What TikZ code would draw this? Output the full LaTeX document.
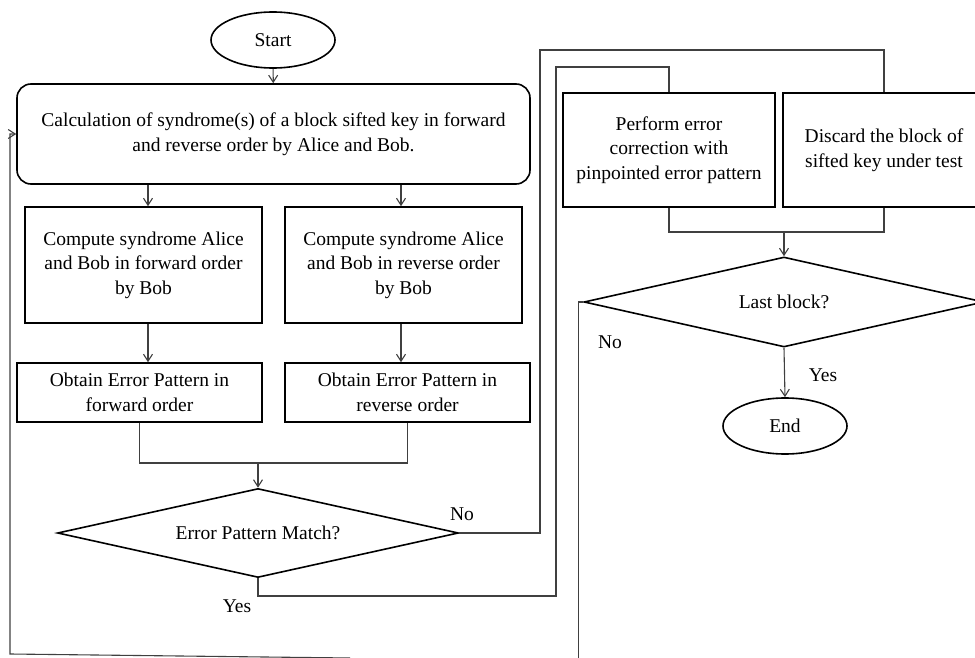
\documentclass[tikz,border=0pt]{standalone}
\usepackage{fontspec}
\setmainfont{Liberation Serif}
\usetikzlibrary{shapes.geometric,arrows.meta}
\tikzset{
  box/.style={draw=black,line width=1.6pt,rectangle,align=center,inner sep=0pt},
  term/.style={draw=black,line width=1.6pt,ellipse,inner sep=0pt,minimum width=124pt,minimum height=56pt},
  dec/.style={draw=black,line width=1.6pt,diamond,aspect=4.5,inner sep=0pt,align=center},
  conn/.style={draw=black!75,line width=1.1pt},
  arr/.style={conn,-{Straight Barb[length=7pt,width=9pt]}},
  lbl/.style={inner sep=0pt}
}
\begin{document}
\begin{tikzpicture}[x=1pt,y=-1pt,font=\fontsize{19.5}{24.5}\selectfont]
\useasboundingbox (0,0) rectangle (975,658);
\clip (0,0) rectangle (975,658);
\node[term] (start) at (273,40) {Start};
\node[box,rounded corners=14pt,minimum width=513pt,minimum height=100pt] (main) at (273.5,134)
  {Calculation of syndrome(s) of a block sifted key in forward\\and reverse order by Alice and Bob.};
\node[box,minimum width=237pt,minimum height=116pt] (cl) at (143.5,265)
  {Compute syndrome Alice\\and Bob in forward order\\by Bob};
\node[box,minimum width=237pt,minimum height=116pt] (cr) at (403.5,265)
  {Compute syndrome Alice\\and Bob in reverse order\\by Bob};
\node[box,minimum width=245pt,minimum height=59pt] (ol) at (139.5,392.5)
  {Obtain Error Pattern in\\forward order};
\node[box,minimum width=245pt,minimum height=59pt] (or) at (407.5,392.5)
  {Obtain Error Pattern in\\reverse order};
\node[dec,minimum width=401pt,minimum height=89pt] (d1) at (258,533) {Error Pattern Match?};
\node[box,minimum width=212pt,minimum height=114pt] (perf) at (669,150)
  {Perform error\\correction with\\pinpointed error pattern};
\node[box,minimum width=202pt,minimum height=114pt] (disc) at (884,150)
  {Discard the block of\\sifted key under test};
\node[dec,minimum width=400pt,minimum height=90pt] (ld) at (784,302) {Last block?};
\node[term] (end) at (785,426) {End};
\coordinate (m1) at (258,463);
\coordinate (m2) at (784,232);
\coordinate (fb) at (350,658);
\node[lbl] (no1) at (462,514) {No};
\node[lbl] (yes1) at (237,606) {Yes};
\node[lbl] (no2) at (610,342) {No};
\node[lbl] (yes2) at (823,375) {Yes};
% connectors
\draw[arr] (start) -- (main);
\draw[arr] (main.south -| 148,0) -- (cl.north -| 148,0);
\draw[arr] (main.south -| 401,0) -- (cr.north -| 401,0);
\draw[arr] (cl.south -| 148,0) -- (ol.north -| 148,0);
\draw[arr] (cr.south -| 401,0) -- (or.north -| 401,0);
\draw[conn] (ol.south) |- (m1) -| (or.south);
\draw[arr] (m1) -- (d1.north);
\draw[conn] (d1.east) -- (540,533) -- (540,50) -| (disc.north);
\draw[conn] (d1.south) -- (258,596) -- (556,596) -- (556,67) -| (perf.north);
\draw[conn] (perf.south) |- (m2) -| (disc.south);
\draw[arr] (m2) -- (ld.north);
\draw[arr] (ld.south) -- (end.north);
\draw[conn] (ld.west) -- ++(-5,0) -- ++(0,400);
\draw[arr] (fb) -- (10,654) |- (main.west);
\end{tikzpicture}
\end{document}
